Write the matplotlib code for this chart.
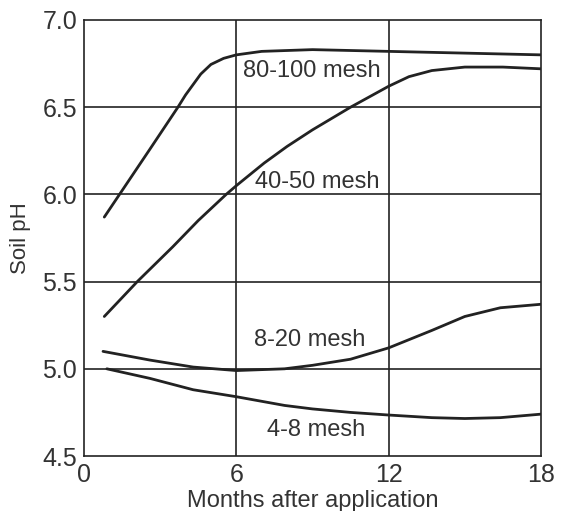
import matplotlib
matplotlib.use("Agg")
import matplotlib.pyplot as plt

# valeurs (mois, pH)
mois_80_100 = [0.8, 1.4, 2.6, 3.7, 4.0, 4.3, 4.6, 5.0, 5.5, 6.0, 7.0, 9.0, 12.0, 15.0, 18.0]
ph_80_100 = [5.87, 6.00, 6.26, 6.50, 6.57, 6.63, 6.69, 6.745, 6.78, 6.80, 6.82, 6.83, 6.82, 6.81, 6.80]

mois_40_50 = [0.8, 2.1, 3.5, 4.5, 5.6, 6.0, 7.1, 8.0, 9.0, 10.5, 12.0, 12.8, 13.7, 15.0, 16.5, 18.0]
ph_40_50 = [5.30, 5.50, 5.70, 5.85, 6.00, 6.05, 6.18, 6.275, 6.37, 6.50, 6.62, 6.675, 6.71, 6.73, 6.73, 6.72]

mois_8_20 = [0.75, 2.6, 4.3, 6.0, 7.9, 9.0, 10.5, 12.0, 13.7, 15.0, 16.4, 18.0]
ph_8_20 = [5.10, 5.05, 5.01, 4.99, 5.00, 5.02, 5.055, 5.12, 5.22, 5.30, 5.35, 5.37]

mois_4_8 = [0.9, 2.6, 4.3, 6.0, 7.9, 9.0, 10.5, 12.0, 13.7, 15.0, 16.4, 18.0]
ph_4_8 = [5.00, 4.945, 4.88, 4.84, 4.79, 4.77, 4.75, 4.735, 4.72, 4.715, 4.72, 4.74]

etiquettes = ["80-100 mesh", "40-50 mesh", "8-20 mesh", "4-8 mesh"]
pos_etiquettes = [(8.96, 6.71), (9.2, 6.07), (8.9, 5.165), (9.15, 4.65)]

plt.rcParams['font.family'] = ['Liberation Sans', 'DejaVu Sans']
couleur = "#222222"

fig = plt.figure(figsize=(5.61, 5.11), dpi=100)
ax = fig.add_axes([0.1497, 0.1076, 0.8146, 0.8533])

for x in [6, 12]:
    ax.axvline(x, color=couleur, lw=1.2, zorder=1)
for y in [5.0, 5.5, 6.0, 6.5]:
    ax.axhline(y, color=couleur, lw=1.2, zorder=1)

for xs, ys in [(mois_80_100, ph_80_100), (mois_40_50, ph_40_50),
               (mois_8_20, ph_8_20), (mois_4_8, ph_4_8)]:
    ax.plot(xs, ys, color=couleur, lw=2.0, zorder=3, solid_capstyle='round',
            solid_joinstyle='round')

for txt, (x, y) in zip(etiquettes, pos_etiquettes):
    ax.text(x, y, txt, ha='center', va='center', fontsize=17, color="#333333",
            zorder=4)

ax.set_xlim(0, 18)
ax.set_ylim(4.5, 7.0)
ax.set_xticks([0, 6, 12, 18])
ax.set_yticks([4.5, 5.0, 5.5, 6.0, 6.5, 7.0])
ax.set_yticklabels(["4.5", "5.0", "5.5", "6.0", "6.5", "7.0"])
ax.tick_params(length=0, labelsize=18, colors="#333333", pad=5)
for s in ax.spines.values():
    s.set_color(couleur)
    s.set_linewidth(1.2)

ax.set_xlabel("Months after application", fontsize=17, color="#333333", labelpad=2)
ax.set_ylabel("Soil pH", fontsize=16, color="#333333", labelpad=8)

fig.savefig("out.png", dpi=100)
